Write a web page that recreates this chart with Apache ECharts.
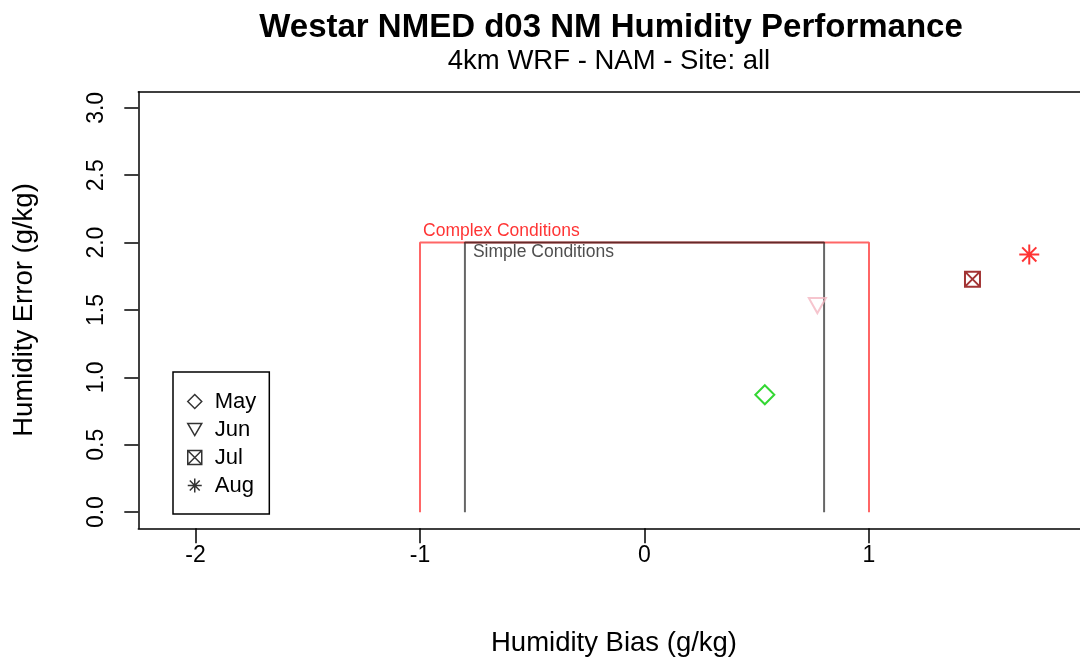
<!DOCTYPE html>
<html>
<head>
<meta charset="utf-8">
<script src="https://cdn.jsdelivr.net/npm/echarts@6/dist/echarts.min.js"></script>
<style>html,body{margin:0;padding:0;background:#fff}#c{width:1080px;height:664px}</style>
</head>
<body>
<div id="c"></div>
<script>
// ---- data ----
const months = ['May', 'Jun', 'Jul', 'Aug'];
const biasValues = [0.536, 0.770, 1.461, 1.714];
const errorValues = [0.871, 1.533, 1.729, 1.912];
const complexX = [-1, -1, 1, 1];
const complexY = [0, 2, 2, 0];
const simpleX = [-0.8, -0.8, 0.8, 0.8];
const simpleY = [0, 2, 2, 0];
const xTicks = [-2, -1, 0, 1];
const yTicks = [0, 0.5, 1.0, 1.5, 2.0, 2.5, 3.0];

const FONT = 'Liberation Sans';
const symbols = [
  'diamond',
  'path://M0 0 L10 0 L5 8.66 Z',
  'path://M0 0 L10 0 L10 10 L0 10 Z M0 0 L10 10 M10 0 L0 10',
  'path://M5 0 L5 10 M0 5 L10 5 M1.46 1.46 L8.54 8.54 M8.54 1.46 L1.46 8.54'
];
const colors = ['#00CD00', '#F4B6C2', '#8B0000', '#FF0000'];
const sizes = [[19, 19], [17, 15], [15, 15], [20, 20]];

const pts = (xs, ys) => xs.map((x, i) => [x, ys[i]]);

const series = [
  { type: 'line', data: pts(complexX, complexY), symbol: 'none', silent: true,
    lineStyle: { color: 'rgba(255,0,0,0.6)', width: 2 }, z: 2 },
  { type: 'line', data: pts(simpleX, simpleY), symbol: 'none', silent: true,
    lineStyle: { color: 'rgba(0,0,0,0.6)', width: 2 }, z: 3 },
  { type: 'scatter', data: [[complexX[1], complexY[1]]], symbolSize: 0, silent: true,
    label: { show: true, formatter: 'Complex Conditions', position: [3, -20],
      fontSize: 17.5, fontFamily: FONT, color: '#ff0000' } },
  { type: 'scatter', data: [[simpleX[1], simpleY[1]]], symbolSize: 0, silent: true,
    label: { show: true, formatter: 'Simple Conditions', position: [8, 1],
      fontSize: 17.5, fontFamily: FONT, color: '#222' } }
];
months.forEach((m, i) => {
  series.push({
    type: 'scatter', name: m, data: [[biasValues[i], errorValues[i]]],
    symbol: symbols[i], symbolSize: sizes[i], z: 5,
    itemStyle: { color: 'rgba(0,0,0,0)', borderColor: colors[i], borderWidth: 2 }
  });
});

const chart = echarts.init(document.getElementById('c'), null, { renderer: 'canvas' });
chart.setOption({
  backgroundColor: '#fff',
  animation: false,
  title: [
    { text: 'Westar NMED d03 NM Humidity Performance', left: 606, top: 6, textAlign: 'center',
      textStyle: { fontSize: 33, fontWeight: 'bold', fontFamily: FONT, color: '#000' } },
    { text: '4km WRF - NAM - Site: all', left: 604, top: 42, textAlign: 'center',
      textStyle: { fontSize: 27.5, fontWeight: 'normal', fontFamily: FONT, color: '#000' } },
    { text: 'Humidity Bias (g/kg)', left: 609, top: 624, textAlign: 'center',
      textStyle: { fontSize: 27.5, fontWeight: 'normal', fontFamily: FONT, color: '#000' } }
  ],
  grid: { left: 138.3, top: 91.7, right: 0, height: 436.6, show: false },
  xAxis: [{
    type: 'value', min: -2.255, max: 1.94, position: 'bottom',
    axisLine: { show: true, onZero: false, lineStyle: { color: '#000', width: 1.5 } },
    splitLine: { show: false },
    axisTick: { show: true, length: 15, lineStyle: { color: '#000', width: 1.5 }, customValues: xTicks },
    axisLabel: { show: true, customValues: xTicks, margin: 16, fontSize: 23, fontFamily: FONT, color: '#000',
      formatter: v => String(v) }
  }, {
    type: 'value', min: -2.255, max: 1.94, position: 'top',
    axisLine: { show: true, onZero: false, lineStyle: { color: '#000', width: 1.5 } },
    splitLine: { show: false }, axisTick: { show: false }, axisLabel: { show: false }
  }],
  yAxis: {
    type: 'value', min: -0.12, max: 3.12, position: 'left',
    name: 'Humidity Error (g/kg)', nameLocation: 'middle', nameRotate: 90, nameGap: 100,
    nameTextStyle: { fontSize: 27.5, fontFamily: FONT, color: '#000' },
    axisLine: { show: true, onZero: false, lineStyle: { color: '#000', width: 1.5 } },
    splitLine: { show: false },
    axisTick: { show: true, length: 14, lineStyle: { color: '#000', width: 1.5 }, customValues: yTicks },
    axisLabel: { show: true, customValues: yTicks, rotate: 90, margin: 30, fontSize: 23, fontFamily: FONT, color: '#000',
      formatter: v => Number(v).toFixed(1) }
  },
  legend: {
    data: months, orient: 'vertical', left: 173, top: 372,
    padding: [18, 13, 17, 14], itemGap: 5, itemWidth: 14, itemHeight: 14,
    borderColor: '#000', borderWidth: 1.5,
    itemStyle: { color: 'rgba(0,0,0,0)', borderColor: '#000', borderWidth: 1.5 },
    textStyle: { fontSize: 22, lineHeight: 23, fontFamily: FONT, color: '#000', padding: [0, 0, 0, 8] },
    selectedMode: false
  },
  series: series
});
</script>
</body>
</html>
